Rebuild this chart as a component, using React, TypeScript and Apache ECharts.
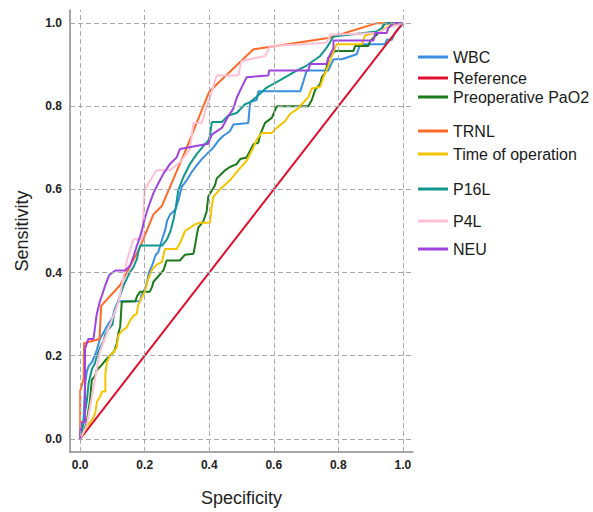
import React, { useEffect, useRef } from 'react';
import * as echarts from 'echarts';

const tickValues = [0, 0.2, 0.4, 0.6, 0.8, 1.0];
const seriesNames = ['WBC', 'Reference', 'Preoperative PaO2', 'TRNL', 'Time of operation', 'P16L', 'P4L', 'NEU'];

const wbc = [[0,0],[0.005,0.03],[0.01,0.04],[0.015,0.13],[0.02,0.16],[0.026,0.175],[0.037,0.185],[0.045,0.2],[0.052,0.215],[0.061,0.24],[0.068,0.25],[0.078,0.264],[0.09,0.28],[0.1,0.291],[0.106,0.31],[0.113,0.323],[0.12,0.331],[0.186,0.331],[0.19,0.346],[0.2,0.36],[0.207,0.376],[0.212,0.398],[0.223,0.417],[0.233,0.441],[0.242,0.449],[0.254,0.48],[0.264,0.504],[0.269,0.524],[0.279,0.54],[0.295,0.551],[0.305,0.575],[0.315,0.607],[0.33,0.622],[0.346,0.642],[0.361,0.658],[0.377,0.673],[0.392,0.685],[0.413,0.701],[0.428,0.717],[0.444,0.729],[0.464,0.74],[0.475,0.756],[0.521,0.76],[0.527,0.81],[0.547,0.815],[0.552,0.836],[0.682,0.836],[0.69,0.855],[0.702,0.886],[0.769,0.886],[0.785,0.913],[0.811,0.913],[0.857,0.925],[0.868,0.949],[0.945,0.949],[0.95,0.96],[0.966,0.96],[0.975,0.976],[1,1]];

const reference = [[0,0],[1,1]];

const preopPaO2 = [[0,0],[0.01,0.015],[0.02,0.04],[0.03,0.09],[0.036,0.142],[0.045,0.15],[0.051,0.165],[0.067,0.178],[0.078,0.189],[0.092,0.2],[0.105,0.21],[0.113,0.228],[0.118,0.252],[0.124,0.27],[0.129,0.33],[0.171,0.331],[0.176,0.343],[0.186,0.354],[0.216,0.354],[0.223,0.366],[0.227,0.378],[0.258,0.405],[0.268,0.429],[0.309,0.429],[0.325,0.443],[0.351,0.445],[0.356,0.465],[0.361,0.488],[0.366,0.508],[0.382,0.524],[0.392,0.547],[0.397,0.583],[0.418,0.61],[0.423,0.626],[0.449,0.646],[0.464,0.654],[0.485,0.661],[0.496,0.673],[0.516,0.677],[0.537,0.709],[0.552,0.712],[0.558,0.732],[0.573,0.76],[0.594,0.772],[0.609,0.8],[0.707,0.8],[0.718,0.815],[0.728,0.839],[0.744,0.854],[0.749,0.87],[0.759,0.88],[0.764,0.894],[0.769,0.917],[0.79,0.933],[0.847,0.933],[0.852,0.945],[0.893,0.945],[0.899,0.957],[0.919,0.972],[0.935,0.984],[0.94,0.996],[0.95,1],[1,1]];

const trnl = [[0,0],[0,0.115],[0.011,0.146],[0.012,0.23],[0.06,0.24],[0.065,0.32],[0.124,0.37],[0.185,0.46],[0.227,0.54],[0.253,0.56],[0.33,0.7],[0.4,0.835],[0.43,0.858],[0.537,0.937],[0.774,0.965],[0.919,1],[1,1]];

const timeOfOperation = [[0,0],[0.01,0.015],[0.021,0.03],[0.031,0.04],[0.04,0.05],[0.047,0.063],[0.052,0.09],[0.061,0.1],[0.068,0.114],[0.078,0.114],[0.078,0.158],[0.083,0.185],[0.092,0.2],[0.104,0.209],[0.113,0.22],[0.119,0.25],[0.13,0.26],[0.144,0.268],[0.155,0.285],[0.166,0.297],[0.175,0.3],[0.18,0.323],[0.19,0.339],[0.2,0.354],[0.211,0.385],[0.222,0.406],[0.237,0.419],[0.253,0.425],[0.263,0.457],[0.299,0.457],[0.309,0.47],[0.325,0.5],[0.356,0.516],[0.371,0.52],[0.402,0.52],[0.408,0.559],[0.413,0.583],[0.433,0.6],[0.464,0.622],[0.496,0.652],[0.516,0.669],[0.537,0.701],[0.547,0.72],[0.563,0.736],[0.594,0.736],[0.609,0.748],[0.635,0.764],[0.651,0.782],[0.676,0.795],[0.687,0.805],[0.707,0.822],[0.718,0.843],[0.744,0.847],[0.754,0.87],[0.769,0.897],[0.78,0.921],[0.79,0.941],[0.795,0.949],[0.873,0.949],[0.883,0.97],[0.93,0.98],[0.95,0.99],[0.981,1],[1,1]];

const p16l = [[0,0],[0.005,0.01],[0.01,0.04],[0.021,0.094],[0.026,0.134],[0.037,0.169],[0.045,0.18],[0.052,0.2],[0.062,0.22],[0.073,0.236],[0.078,0.252],[0.088,0.264],[0.1,0.275],[0.105,0.3],[0.113,0.32],[0.124,0.346],[0.135,0.37],[0.145,0.386],[0.155,0.402],[0.165,0.413],[0.176,0.433],[0.181,0.453],[0.186,0.465],[0.254,0.465],[0.269,0.48],[0.28,0.5],[0.29,0.53],[0.297,0.56],[0.304,0.598],[0.32,0.63],[0.34,0.661],[0.361,0.685],[0.387,0.709],[0.397,0.717],[0.402,0.729],[0.408,0.762],[0.439,0.762],[0.459,0.778],[0.485,0.784],[0.511,0.805],[0.527,0.81],[0.547,0.823],[0.578,0.845],[0.609,0.858],[0.64,0.872],[0.671,0.886],[0.702,0.898],[0.744,0.921],[0.764,0.941],[0.785,0.968],[0.919,0.98],[0.935,0.988],[0.945,1],[1,1]];

const p4l = [[0,0],[0.02,0.032],[0.061,0.21],[0.1,0.29],[0.119,0.33],[0.145,0.43],[0.165,0.48],[0.192,0.48],[0.197,0.56],[0.2,0.6],[0.227,0.634],[0.237,0.646],[0.278,0.646],[0.31,0.666],[0.34,0.697],[0.351,0.76],[0.377,0.76],[0.392,0.8],[0.402,0.82],[0.423,0.874],[0.49,0.874],[0.5,0.909],[0.573,0.921],[0.589,0.945],[0.764,0.953],[0.775,0.972],[0.919,0.976],[0.95,0.988],[0.981,0.995],[1,1]];

const neu = [[0,0],[0,0.015],[0.005,0.04],[0.015,0.04],[0.015,0.217],[0.025,0.24],[0.041,0.24],[0.046,0.268],[0.051,0.299],[0.061,0.331],[0.068,0.346],[0.078,0.37],[0.09,0.394],[0.109,0.405],[0.14,0.405],[0.155,0.417],[0.166,0.441],[0.176,0.465],[0.186,0.488],[0.192,0.504],[0.202,0.535],[0.212,0.559],[0.227,0.591],[0.237,0.607],[0.258,0.638],[0.278,0.661],[0.299,0.677],[0.309,0.697],[0.397,0.71],[0.408,0.732],[0.439,0.748],[0.459,0.776],[0.475,0.795],[0.485,0.82],[0.5,0.845],[0.516,0.87],[0.583,0.874],[0.586,0.886],[0.707,0.886],[0.713,0.902],[0.764,0.902],[0.769,0.915],[0.785,0.94],[0.785,0.958],[0.909,0.958],[0.914,0.976],[0.95,0.976],[0.955,0.988],[0.971,1],[1,1]];

const seriesData = [wbc, reference, preopPaO2, trnl, timeOfOperation, p16l, p4l, neu];

const seriesColors = ['#3a8fe0', '#e0102d', '#1b7a1b', '#ff6a26', '#f5c400', '#11968e', '#ffc0d5', '#a044e0'];
const legendTops = [49, 70, 89, 123, 146, 181, 213, 241];

const FONT = 'Liberation Sans, Arial, sans-serif';
const AX_MIN = -0.0316;
const AX_MAX = 1.0316;

export default function App() {
  const ref = useRef<HTMLDivElement>(null);
  useEffect(() => {
    document.body.style.margin = '0';
    if (!ref.current) return;
    const chart = echarts.init(ref.current, undefined, { renderer: 'svg' });
    const gridLineStyle = { type: [5, 3], color: '#a8a8a8', width: 1 };
    const series: any[] = [
      {
        name: '__grid',
        type: 'line',
        data: [],
        z: 1,
        silent: true,
        markLine: {
          silent: true,
          symbol: ['none', 'none'],
          label: { show: false },
          lineStyle: gridLineStyle,
          emphasis: { disabled: true },
          animation: false,
          data: [
            ...tickValues.map((v) => ({ xAxis: v })),
            ...tickValues.map((v) => ({ yAxis: v })),
          ],
        },
      },
      ...seriesNames.map((name, i) => ({
        name,
        type: 'line',
        data: seriesData[i],
        showSymbol: false,
        symbol: 'none',
        z: 3,
        color: seriesColors[i],
        lineStyle: { color: seriesColors[i], width: 2 },
        emphasis: { disabled: true },
      })),
    ];
    chart.setOption({
      animation: false,
      backgroundColor: '#ffffff',
      grid: { left: 70, right: 180, top: 10, bottom: 52, containLabel: false },
      xAxis: {
        type: 'value',
        min: AX_MIN,
        max: AX_MAX,
        name: 'Specificity',
        nameLocation: 'middle',
        nameGap: 37,
        nameTextStyle: { fontSize: 18, color: '#222', fontFamily: FONT },
        axisLine: { show: true, onZero: false, lineStyle: { color: '#8a8a8a', width: 1.5 } },
        axisTick: { show: false, customValues: tickValues },
        splitLine: { show: false },
        axisLabel: {
          customValues: tickValues,
          formatter: (v: number) => v.toFixed(1),
          fontSize: 12,
          fontWeight: 'bold',
          color: '#222',
          fontFamily: FONT,
          margin: 7,
        },
      },
      yAxis: {
        type: 'value',
        min: AX_MIN,
        max: AX_MAX,
        name: 'Sensitivity',
        nameLocation: 'middle',
        nameGap: 39,
        nameTextStyle: { fontSize: 18, color: '#222', fontFamily: FONT },
        axisLine: { show: true, onZero: false, lineStyle: { color: '#8a8a8a', width: 1.5 } },
        axisTick: { show: false, customValues: tickValues },
        splitLine: { show: false },
        axisLabel: {
          customValues: tickValues,
          formatter: (v: number) => v.toFixed(1),
          fontSize: 12,
          fontWeight: 'bold',
          color: '#222',
          fontFamily: FONT,
          margin: 8,
        },
      },
      legend: seriesNames.map((name, i) => ({
        data: [name],
        left: 418,
        top: legendTops[i],
        orient: 'vertical',
        icon: 'rect',
        itemWidth: 30,
        itemHeight: 3,
        padding: 0,
        selectedMode: false,
        textStyle: {
          fontSize: 16,
          color: '#1a1a1a',
          fontFamily: FONT,
        },
      })),
      series,
    });
    return () => chart.dispose();
  }, []);
  return <div ref={ref} style={{ width: 593, height: 512 }} />;
}
